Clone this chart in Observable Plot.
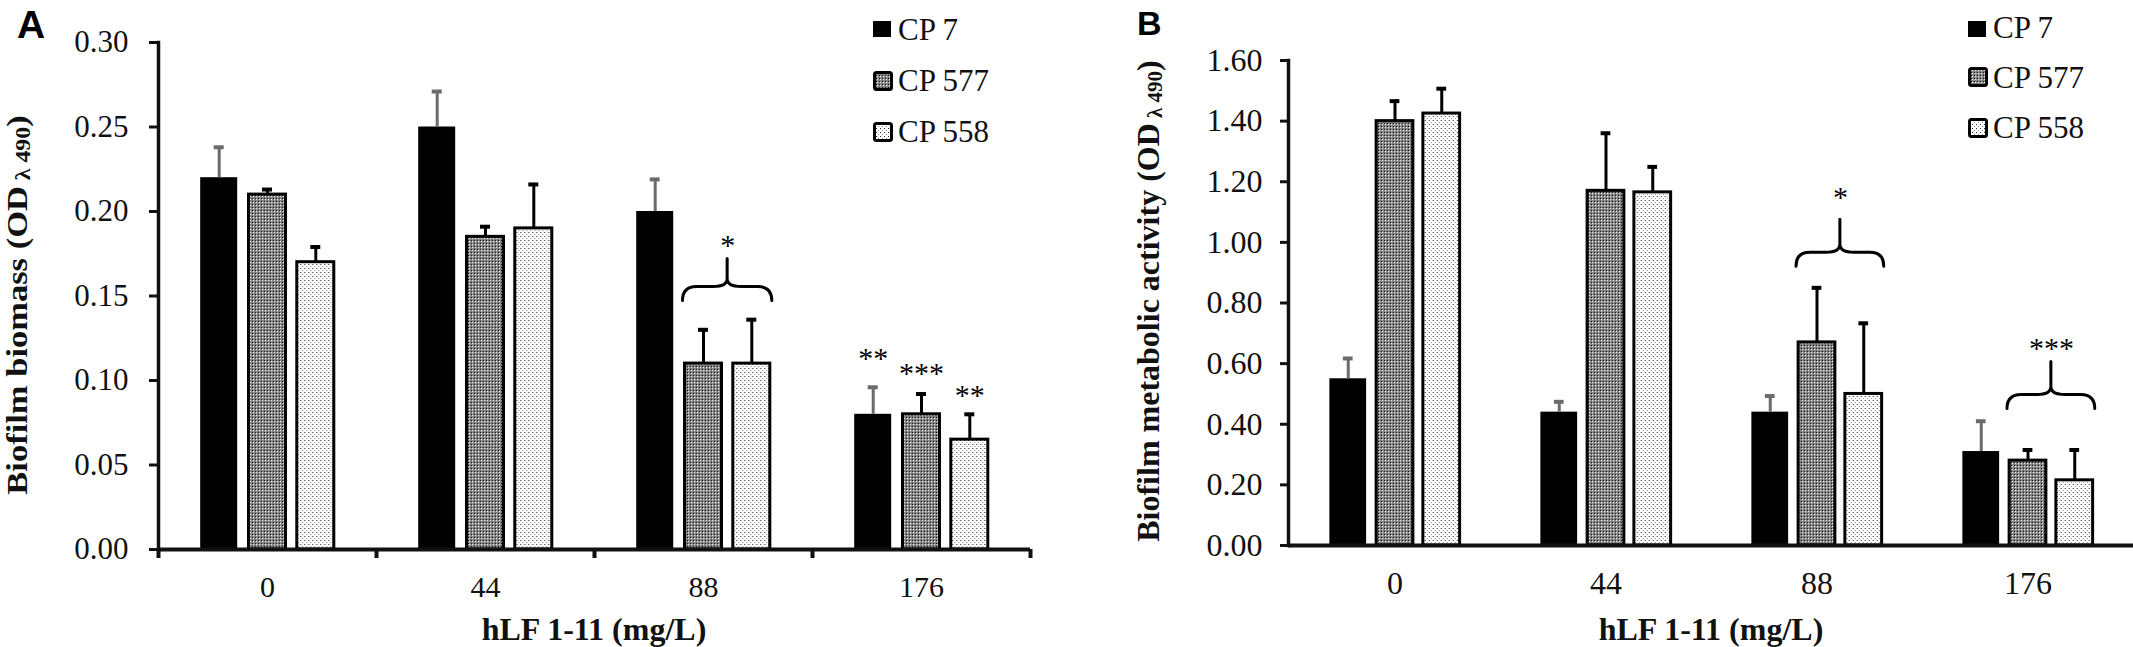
<!DOCTYPE html>
<html>
<head>
<meta charset="utf-8">
<script src="https://cdn.jsdelivr.net/npm/d3@7"></script>
<script src="https://cdn.jsdelivr.net/npm/@observablehq/plot@0.6"></script>
<style>
html, body { margin: 0; padding: 0; background: #fff; }
#wrap { position: relative; width: 2133px; height: 647px; overflow: hidden; background: #fff; }
.panel { position: absolute; top: 0; }
#overlay { position: absolute; left: 0; top: 0; pointer-events: none; }
</style>
</head>
<body>
<div id="wrap">
  <div class="panel" id="panelA" style="left:0px"></div>
  <div class="panel" id="panelB" style="left:1066px"></div>
</div>
<script>
// ---------- data ----------
const categories = ["0", "44", "88", "176"];
const series = ["CP 7", "CP 577", "CP 558"];

// Panel A: biofilm biomass (OD λ490)
const biomassCP7   = [0.22, 0.25, 0.20, 0.08];
const biomassCP577 = [0.21, 0.185, 0.11, 0.08];
const biomassCP558 = [0.17, 0.19, 0.11, 0.065];
const biomassErrCP7   = [0.018, 0.021, 0.019, 0.016];
const biomassErrCP577 = [0.003, 0.006, 0.020, 0.012];
const biomassErrCP558 = [0.009, 0.026, 0.026, 0.015];
const biomassTicks = [0, 0.05, 0.10, 0.15, 0.20, 0.25, 0.30];
const biomassBraces = [{cat: "88", from: "CP 577", to: "CP 558", level: 0.147, starLevel: 0.183, label: "*"}];
const biomassStars = [
  {cat: "176", series: "CP 7",   level: 0.116, label: "**"},
  {cat: "176", series: "CP 577", level: 0.107, label: "***"},
  {cat: "176", series: "CP 558", level: 0.094, label: "**"}
];

// Panel B: biofilm metabolic activity (OD λ490)
const activityCP7   = [0.55, 0.44, 0.44, 0.31];
const activityCP577 = [1.40, 1.17, 0.67, 0.28];
const activityCP558 = [1.425, 1.165, 0.50, 0.215];
const activityErrCP7   = [0.067, 0.034, 0.053, 0.10];
const activityErrCP577 = [0.066, 0.19, 0.18, 0.035];
const activityErrCP558 = [0.082, 0.084, 0.233, 0.10];
const activityTicks = [0, 0.2, 0.4, 0.6, 0.8, 1.0, 1.2, 1.4, 1.6];
const activityBraces = [
  {cat: "88",  from: "CP 577", to: "CP 558", level: 0.92, starLevel: 1.165, label: "*"},
  {cat: "176", from: "CP 577", to: "CP 558", level: 0.45, starLevel: 0.667, label: "***"}
];
const activityStars = [];

// ---------- helpers ----------
function buildTable(vals, errs) {
  return series.flatMap((s, j) => categories.map((c, i) => ({cat: c, series: s, value: vals[j][i], err: errs[j][i]})));
}
const biomassData = buildTable([biomassCP7, biomassCP577, biomassCP558], [biomassErrCP7, biomassErrCP577, biomassErrCP558]);
const activityData = buildTable([activityCP7, activityCP577, activityCP558], [activityErrCP7, activityErrCP577, activityErrCP558]);

const SERIF = "'Liberation Serif', 'Times New Roman', serif";
const fills = {"CP 7": "black", "CP 577": "url(#p577)", "CP 558": "url(#p558)"};
const barW = 37;

function panel(cfg) {
  const {data, yMax, ticks, width, ml, mr, mt, mb, offStep, tickSize, tickPadding, fontSize, xFontSize, boundaryTicks, braces, stars, braceH} = cfg;
  const height = 647;
  const bw = (width - ml - mr) / categories.length;
  const innerH = height - mt - mb;
  const ins = (bw - barW) / 2;
  const off = s => (series.indexOf(s) - 1) * offStep;
  const marks = [];

  for (const s of series) {
    const d = data.filter(r => r.series === s);
    marks.push(Plot.barY(d, {
      x: "cat", y: "value", fill: fills[s],
      stroke: s === "CP 7" ? "none" : "black", strokeWidth: 3,
      insetLeft: ins, insetRight: ins, dx: off(s)
    }));
  }
  for (const s of series) {
    const d = data.filter(r => r.series === s);
    const col = s === "CP 7" ? "#6b6b6b" : "black";
    marks.push(Plot.ruleX(d, {x: "cat", y1: "value", y2: r => r.value + r.err, dx: off(s), stroke: col, strokeWidth: 3}));
    marks.push(Plot.tickY(d, {x: "cat", y: r => r.value + r.err, dx: off(s), insetLeft: (bw - 10) / 2, insetRight: (bw - 10) / 2, stroke: col, strokeWidth: 4}));
  }
  // axes
  marks.push(Plot.axisY({ticks, tickFormat: d3.format(".2f"), tickSize, tickPadding, fontSize, fontFamily: SERIF, strokeWidth: 3, label: null}));
  marks.push(Plot.axisX({tickSize: 0, tickPadding: 26, fontSize: xFontSize, fontFamily: SERIF, label: null}));
  marks.push(Plot.ruleY([0], {strokeWidth: 4}));
  marks.push(Plot.frame({anchor: "left", strokeWidth: 3.5}));
  if (boundaryTicks) {
    marks.push(Plot.ruleX(categories, {x: d => d, dx: -bw / 2, insetTop: innerH, insetBottom: -9, strokeWidth: 4}));
    marks.push(Plot.ruleX([categories[categories.length - 1]], {x: d => d, dx: bw / 2, insetTop: innerH, insetBottom: -9, strokeWidth: 4}));
  }
  // star annotations over single bars
  for (const s of series) {
    const d = stars.filter(r => r.series === s);
    if (d.length) marks.push(Plot.text(d, {x: "cat", y: "level", text: "label", dx: off(s), dy: 5, fontSize: 30, fontFamily: SERIF, lineAnchor: "middle", fill: "black"}));
  }
  // braces
  marks.push((index, scales) => {
    const xs = scales.x, ys = scales.y;
    const band = xs.bandwidth ? xs.bandwidth() : bw;
    const g = d3.create("svg:g");
    for (const b of braces) {
      const cx = xs(b.cat) + band / 2;
      const x1 = cx + off(b.from) - barW / 2 - 2;
      const x2 = cx + off(b.to) + barW / 2 + 2;
      const xm = (x1 + x2) / 2;
      const yb = ys(b.level);
      const yh = yb - 14, yt = yb - braceH, r = 14, r2 = 8;
      const p = `M${x1},${yb} Q${x1},${yh} ${x1 + r},${yh} L${xm - r},${yh} Q${xm},${yh} ${xm},${yh - r2} L${xm},${yt} ` +
                `M${xm},${yh - r2} Q${xm},${yh} ${xm + r},${yh} L${x2 - r},${yh} Q${x2},${yh} ${x2},${yb}`;
      g.append("path").attr("d", p).attr("fill", "none").attr("stroke", "black").attr("stroke-width", 3).attr("stroke-linecap", "round");
    }
    return g.node();
  });
  marks.push(Plot.text(braces, {x: "cat", y: "starLevel", text: "label", dx: (off("CP 577") + off("CP 558")) / 2, dy: 5, fontSize: 30, fontFamily: SERIF, lineAnchor: "middle", fill: "black"}));

  const svg = Plot.plot({
    width, height,
    marginLeft: ml, marginRight: mr, marginTop: mt, marginBottom: mb,
    style: {fontFamily: SERIF, color: "#111", background: "transparent", overflow: "visible"},
    x: {type: "band", domain: categories, padding: 0},
    y: {domain: [0, yMax]},
    marks
  });
  // make sure every text of the chart uses the serif face
  d3.select(svg).attr("font-family", SERIF).selectAll("g, text").attr("font-family", SERIF).style("font-family", SERIF);
  return svg;
}

const plotA = panel({
  data: biomassData, yMax: 0.30, ticks: biomassTicks,
  width: 1066, ml: 158, mr: 36, mt: 42, mb: 98,
  offStep: 48.3, tickSize: 9, tickPadding: 21, fontSize: 31, xFontSize: 30,
  boundaryTicks: true, braces: biomassBraces, stars: biomassStars, braceH: 42
});
const plotB = panel({
  data: activityData, yMax: 1.6, ticks: activityTicks,
  width: 1067, ml: 222, mr: 0, mt: 60, mb: 102,
  offStep: 46.75, tickSize: 8, tickPadding: 18, fontSize: 32, xFontSize: 32,
  boundaryTicks: false, braces: activityBraces, stars: activityStars, braceH: 47
});
document.getElementById("panelA").appendChild(plotA);
document.getElementById("panelB").appendChild(plotB);

// ---------- overlay: patterns, panel letters, axis titles, legends ----------
const ov = d3.select("#wrap").append("svg").attr("id", "overlay").attr("width", 2133).attr("height", 647);
const defs = ov.append("defs");
const p1 = defs.append("pattern").attr("id", "p577").attr("patternUnits", "userSpaceOnUse").attr("width", 3).attr("height", 3);
p1.append("rect").attr("width", 3).attr("height", 3).attr("fill", "#858585");
p1.append("rect").attr("x", 0).attr("y", 0).attr("width", 1).attr("height", 1).attr("fill", "#111");
p1.append("rect").attr("x", 1).attr("y", 1).attr("width", 1).attr("height", 1).attr("fill", "#f2f2f2");
const p2 = defs.append("pattern").attr("id", "p558").attr("patternUnits", "userSpaceOnUse").attr("width", 4).attr("height", 4);
p2.append("rect").attr("width", 4).attr("height", 4).attr("fill", "#fff");
p2.append("rect").attr("x", 0).attr("y", 0).attr("width", 1).attr("height", 1).attr("fill", "#222");
p2.append("rect").attr("x", 2).attr("y", 2).attr("width", 1).attr("height", 1).attr("fill", "#888");

const SANS = "'Liberation Sans', Arial, sans-serif";
ov.append("text").attr("x", 17).attr("y", 38).attr("font-family", SANS).attr("font-weight", "bold").attr("font-size", 39).text("A");
ov.append("text").attr("x", 1137).attr("y", 35).attr("font-family", SANS).attr("font-weight", "bold").attr("font-size", 34).text("B");

function yTitle(x, y, main, size, subSize, stretch) {
  const t = ov.append("text").attr("transform", `translate(${x},${y}) rotate(-90) scale(${stretch},1)`).attr("text-anchor", "middle")
    .attr("font-family", SERIF).attr("font-weight", "bold").attr("font-size", size).attr("fill", "#111");
  t.append("tspan").text(main + " (OD");
  t.append("tspan").attr("font-size", subSize).attr("dy", 3).text(" \u03bb 490");
  t.append("tspan").attr("dy", -3).text(")");
}
yTitle(27, 305, "Biofilm biomass", 29, 20, 1.19);
yTitle(1159, 301, "Biofilm metabolic activity", 32, 21, 1.0);

function xTitle(x) {
  ov.append("text").attr("x", x).attr("y", 640).attr("text-anchor", "middle").attr("font-family", SERIF)
    .attr("font-weight", "bold").attr("font-size", 32).attr("fill", "#111").text("hLF 1-11 (mg/L)");
}
xTitle(594);
xTitle(1711);

function legend(x0, rows) {
  series.forEach((s, i) => {
    const row = rows[i];
    if (s === "CP 7") {
      ov.append("rect").attr("x", x0).attr("y", row.top).attr("width", 18).attr("height", 16).attr("fill", "black");
    } else {
      ov.append("rect").attr("x", x0 + 1.5).attr("y", row.top + 1.5).attr("width", 17).attr("height", 17)
        .attr("rx", 2).attr("fill", fills[s]).attr("stroke", "black").attr("stroke-width", 3);
    }
    ov.append("text").attr("x", x0 + 25).attr("y", row.base).attr("font-family", SERIF).attr("font-size", 31).attr("fill", "#111").text(s);
  });
}
legend(873, [{top: 21, base: 40}, {top: 71, base: 91}, {top: 122, base: 142}]);
legend(1968, [{top: 21, base: 38}, {top: 67, base: 88}, {top: 118, base: 138}]);
</script>
</body>
</html>
